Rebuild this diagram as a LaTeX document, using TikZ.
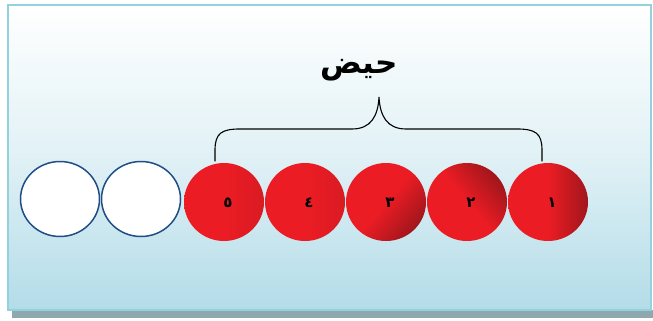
\documentclass[tikz,border=0pt]{standalone}
\usepackage{fontspec}
\newfontfamily\arabicfont[Script=Arabic]{DejaVu Sans}
\TeXXeTstate=1
\usetikzlibrary{calc}
\definecolor{frameblue}{HTML}{92D2DF}
\definecolor{skyblue}{HTML}{B3DCE8}
\definecolor{shadowgray}{HTML}{8FA8AE}
\definecolor{ringblue}{HTML}{1F4E86}
\definecolor{beadred}{HTML}{EC1C24}
\definecolor{beaddark}{HTML}{A0161C}
\tikzset{
  digit/.style={font=\arabicfont\fontsize{15}{15}\selectfont\bfseries, text=black},
}
\begin{document}
\begin{tikzpicture}[x=1pt,y=-1pt]
\useasboundingbox (0,0) rectangle (653,321);
\fill[white] (0,0) rectangle (653,321);
% drop shadow under the panel
\fill[shadowgray] (12,310) rectangle (653,318);
% panel with a white-to-blue gradient
\shade[top color=white, bottom color=skyblue, middle color=skyblue!40]
  (8,5) rectangle (651,310);
\draw[frameblue, line width=2pt] (8,5) rectangle (651,310);
% two empty beads
\foreach \name/\cx in {e1/60, e2/141} {
  \draw[ringblue, line width=1.5pt, fill=white] (\cx,199) ellipse [x radius=39.5, y radius=37.5];
  \coordinate (\name) at (\cx,199);
}
% five red beads, numbered right to left; the darker edge varies per bead
\foreach \name/\cx/\ang/\dk/\lab in {b5/224/0/25/٥, b4/305/0/25/٤, b3/386/-40/100/٣, b2/467/40/100/٢, b1/548/0/100/١} {
  \shade[left color=beadred, right color=beaddark!\dk!beadred, shading angle=90+\ang, middle color=beadred]
     (\cx,202) ellipse [x radius=40, y radius=39];
  \node[digit] (\name) at (\cx+4,203) {\beginR\lab\endR};
}
% brace over the red beads
\coordinate (bl) at (215,161);
\coordinate (br) at (542,161);
\coordinate (tip) at (379,97);
\draw[black, line width=1.1pt, line cap=round]
  (bl) -- (215,150) .. controls (215,133) and (222,129) .. (240,129)
  -- (352,129) .. controls (371,129) and (378,116) .. (tip)
  .. controls (380,116) and (387,129) .. (406,129)
  -- (517,129) .. controls (535,129) and (542,133) .. (542,150) -- (br);
\node[font=\arabicfont\fontsize{31}{31}\selectfont\bfseries] (word) at (359,70) {\beginR حيض\endR};
\end{tikzpicture}
\end{document}
